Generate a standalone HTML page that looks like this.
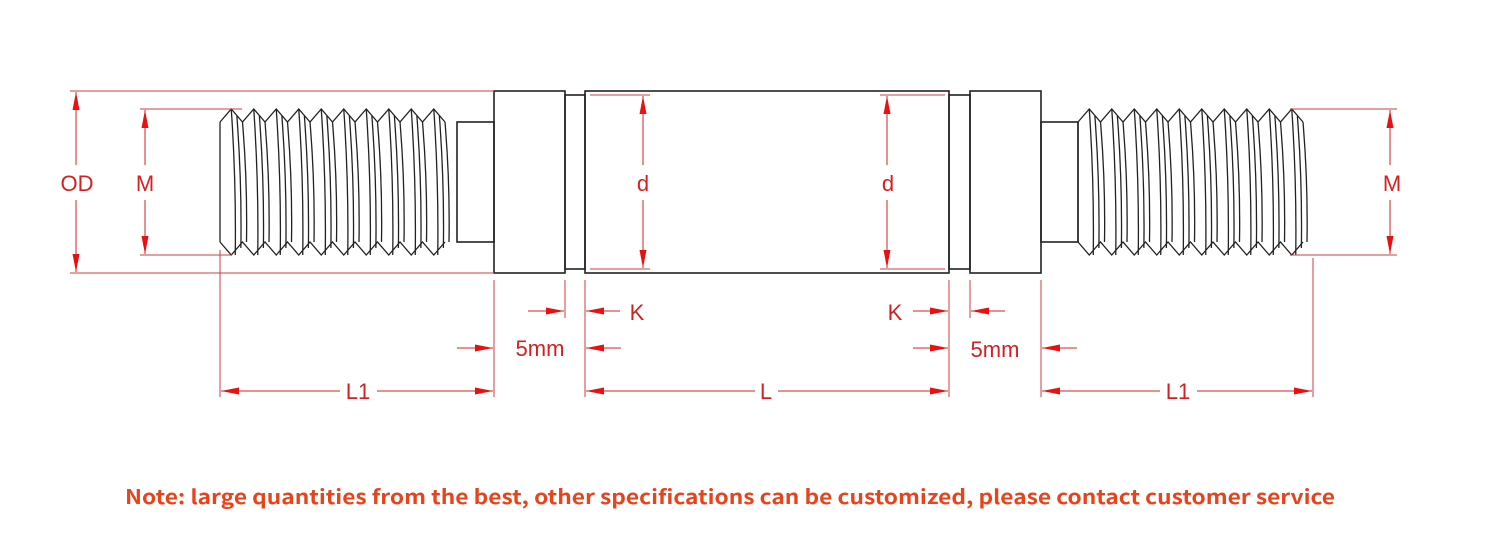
<!DOCTYPE html>
<html><head><meta charset="utf-8"><style>
html,body{margin:0;padding:0;background:#fff;width:1501px;height:536px;overflow:hidden}
svg{display:block}
text{font-family:"Liberation Sans",Arial,sans-serif;fill:#d42020;font-size:22px}
</style></head><body>
<svg id="s" width="1501" height="536" viewBox="0 0 1501 536">
<defs>
<marker id="a" viewBox="0 0 18 8" refX="18" refY="4" markerWidth="18" markerHeight="8" markerUnits="userSpaceOnUse" orient="auto-start-reverse"><path d="M0,0.5 L18,4 L0,7.5 Z" fill="#e81010"/></marker>
</defs>
<g id="body" fill="none" stroke="#222" stroke-width="1.6">
<rect x="457" y="122" width="37" height="120"/>
<rect x="494" y="91" width="71" height="182"/>
<rect x="565" y="95" width="20" height="174"/>
<rect x="585" y="91" width="364" height="182"/>
<rect x="949" y="95" width="21" height="174"/>
<rect x="970" y="91" width="71" height="182"/>
<rect x="1041" y="122" width="37" height="120"/>
</g>
<g id="thr" fill="none" stroke="#222" stroke-width="1.3"></g>
<g fill="none" stroke="#c84040" stroke-width="1">
<line x1="70" y1="91" x2="494" y2="91"/><line x1="70" y1="273" x2="494" y2="273"/>
<line x1="140" y1="109" x2="242" y2="109"/><line x1="140" y1="255" x2="232" y2="255"/>
<line x1="1290" y1="109" x2="1397" y2="109"/><line x1="1290" y1="255" x2="1397" y2="255"/>
<line x1="590" y1="95" x2="650" y2="95"/><line x1="590" y1="269" x2="650" y2="269"/>
<line x1="880" y1="95" x2="945" y2="95"/><line x1="880" y1="269" x2="945" y2="269"/>
<line x1="220" y1="250" x2="220" y2="397"/><line x1="494" y1="280" x2="494" y2="397"/>
<line x1="565" y1="280" x2="565" y2="318"/><line x1="585" y1="280" x2="585" y2="397"/>
<line x1="949" y1="280" x2="949" y2="397"/><line x1="970" y1="280" x2="970" y2="318"/>
<line x1="1041" y1="280" x2="1041" y2="397"/><line x1="1313" y1="258" x2="1313" y2="397"/>
</g>
<g stroke="#d42020" stroke-width="1" fill="none">
<line x1="76" y1="165" x2="76" y2="92" marker-end="url(#a)"/><line x1="76" y1="200" x2="76" y2="272" marker-end="url(#a)"/>
<line x1="145" y1="165" x2="145" y2="110" marker-end="url(#a)"/><line x1="145" y1="200" x2="145" y2="254" marker-end="url(#a)"/>
<line x1="643" y1="165" x2="643" y2="96" marker-end="url(#a)"/><line x1="643" y1="200" x2="643" y2="268" marker-end="url(#a)"/>
<line x1="887" y1="165" x2="887" y2="96" marker-end="url(#a)"/><line x1="887" y1="200" x2="887" y2="268" marker-end="url(#a)"/>
<line x1="1390" y1="165" x2="1390" y2="110" marker-end="url(#a)"/><line x1="1390" y1="200" x2="1390" y2="254" marker-end="url(#a)"/>
<line x1="528" y1="311" x2="564" y2="311" marker-end="url(#a)"/><line x1="620" y1="311" x2="586" y2="311" marker-end="url(#a)"/>
<line x1="913" y1="311" x2="948" y2="311" marker-end="url(#a)"/><line x1="1005" y1="311" x2="971" y2="311" marker-end="url(#a)"/>
<line x1="457" y1="348" x2="493" y2="348" marker-end="url(#a)"/><line x1="621" y1="348" x2="586" y2="348" marker-end="url(#a)"/>
<line x1="913" y1="348" x2="948" y2="348" marker-end="url(#a)"/><line x1="1077" y1="348" x2="1042" y2="348" marker-end="url(#a)"/>
<line x1="340" y1="391" x2="221" y2="391" marker-end="url(#a)"/><line x1="377" y1="391" x2="493" y2="391" marker-end="url(#a)"/>
<line x1="755" y1="391" x2="586" y2="391" marker-end="url(#a)"/><line x1="778" y1="391" x2="948" y2="391" marker-end="url(#a)"/>
<line x1="1160" y1="391" x2="1042" y2="391" marker-end="url(#a)"/><line x1="1197" y1="391" x2="1312" y2="391" marker-end="url(#a)"/>
</g>
<text x="77" y="191" text-anchor="middle">OD</text>
<text x="145" y="191" text-anchor="middle">M</text>
<text x="643" y="191" text-anchor="middle">d</text>
<text x="888" y="191" text-anchor="middle">d</text>
<text x="1392" y="191" text-anchor="middle">M</text>
<text x="637" y="320" text-anchor="middle">K</text>
<text x="895" y="320" text-anchor="middle">K</text>
<text x="540" y="356" text-anchor="middle">5mm</text>
<text x="995" y="357" text-anchor="middle">5mm</text>
<text x="358" y="399" text-anchor="middle">L1</text>
<text x="766" y="399" text-anchor="middle">L</text>
<text x="1178" y="399" text-anchor="middle">L1</text>
<text x="125" y="504" textLength="1210" lengthAdjust="spacingAndGlyphs" style="font-family:'Noto Sans CJK SC','Liberation Sans',sans-serif;font-weight:bold;font-size:20px;fill:#e8431a">Note: large quantities from the best, other specifications can be customized, please contact customer service</text>
</svg>
<script>
var g=document.getElementById('thr'),ns='http://www.w3.org/2000/svg';
function L(d){var p=document.createElementNS(ns,'path');p.setAttribute('d',d);g.appendChild(p);}
function thread(x0,x1,p){
 var top='M'+x0+',122',bot='M'+x0+',242';
 for(var x=x0;x+p<=x1+1;x+=p){
  top+=' L'+(x+p/2)+',109 L'+(x+p)+',122';
  bot+=' L'+(x+p/2)+',255 L'+(x+p)+',242';
  L('M'+(x+p/2)+',109 Q'+(x+p/2+5)+',182 '+(x+p/2+4)+',255');
  L('M'+(x+p)+',122 Q'+(x+p+5)+',182 '+(x+p+4)+',242');
  L('M'+(x+p*0.75)+',116 Q'+(x+p*0.75+5)+',182 '+(x+p*0.75+4)+',248');
 }
 L(top);L(bot);
 L('M'+x0+',122 L'+x0+',242');
}
thread(220,457,22.5);
thread(1078,1313,22.5);
</script>
</body></html>
